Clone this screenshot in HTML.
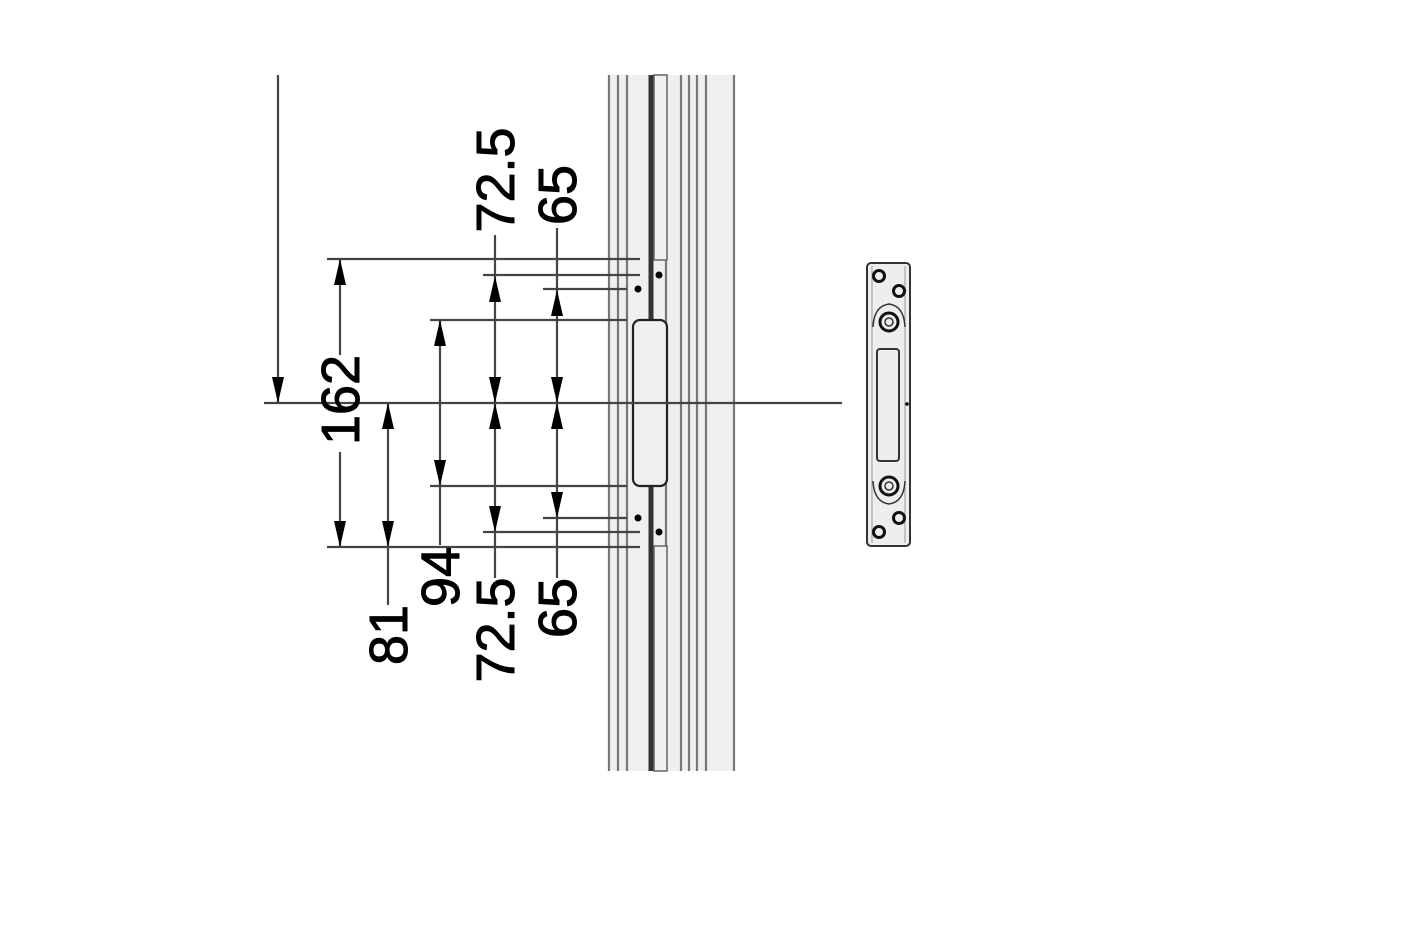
<!DOCTYPE html>
<html><head><meta charset="utf-8"><style>html,body{margin:0;padding:0;background:#fff;}svg{display:block}</style></head>
<body>
<svg width="1422" height="946" viewBox="0 0 1422 946" xmlns="http://www.w3.org/2000/svg">
<defs>
<marker id="a" viewBox="-26 -6 26 12" refX="0" refY="0" markerWidth="26" markerHeight="12" markerUnits="userSpaceOnUse" orient="auto"><path d="M-26,-6 L0,0 L-26,6 Z" fill="#000"/></marker>
</defs>
<rect x="608" y="75" width="127" height="696" fill="#efefef"/>
<g stroke="#777" stroke-width="2.2">
<line x1="609" y1="75" x2="609" y2="771"/>
<line x1="618" y1="75" x2="618" y2="771"/>
<line x1="627" y1="75" x2="627" y2="771"/>
<line x1="666" y1="75" x2="666" y2="771"/>
<line x1="681" y1="75" x2="681" y2="771"/>
<line x1="689" y1="75" x2="689" y2="771"/>
<line x1="697" y1="75" x2="697" y2="771"/>
<line x1="706" y1="75" x2="706" y2="771"/>
<line x1="734" y1="75" x2="734" y2="771"/>
</g>
<line x1="651" y1="75" x2="651" y2="320" stroke="#333" stroke-width="5"/>
<line x1="651" y1="486" x2="651" y2="771" stroke="#333" stroke-width="5"/>
<rect x="654" y="75" width="13" height="185" fill="#efefef" stroke="#666" stroke-width="1.5"/>
<rect x="654" y="546" width="13" height="225" fill="#efefef" stroke="#666" stroke-width="1.5"/>
<rect x="633" y="320" width="34" height="166" rx="7" fill="#efefef" stroke="#222" stroke-width="2.2"/>
<circle cx="659" cy="275" r="3.5" fill="#000"/><circle cx="638" cy="289" r="3.5" fill="#000"/>
<circle cx="638" cy="518" r="3.5" fill="#000"/><circle cx="659" cy="532" r="3.5" fill="#000"/>
<g stroke="#444" stroke-width="2.2" fill="none">
<line x1="264" y1="403" x2="842" y2="403"/>
<line x1="327" y1="259" x2="640" y2="259"/>
<line x1="327" y1="547" x2="640" y2="547"/>
<line x1="430" y1="320" x2="627" y2="320"/>
<line x1="430" y1="486" x2="627" y2="486"/>
<line x1="483" y1="275" x2="640" y2="275"/>
<line x1="483" y1="532" x2="640" y2="532"/>
<line x1="543" y1="289" x2="627" y2="289"/>
<line x1="543" y1="518" x2="627" y2="518"/>
<line x1="278" y1="75" x2="278" y2="403" marker-end="url(#a)"/>
<line x1="340" y1="355" x2="340" y2="259" marker-end="url(#a)"/>
<line x1="340" y1="452" x2="340" y2="547" marker-end="url(#a)"/>
<line x1="388" y1="475" x2="388" y2="403" marker-end="url(#a)"/>
<line x1="388" y1="475" x2="388" y2="547" marker-end="url(#a)"/>
<line x1="388" y1="547" x2="388" y2="605"/>
<line x1="440" y1="400" x2="440" y2="320" marker-end="url(#a)"/>
<line x1="440" y1="400" x2="440" y2="486" marker-end="url(#a)"/>
<line x1="440" y1="486" x2="440" y2="545"/>
<line x1="495" y1="235" x2="495" y2="275"/>
<line x1="495" y1="340" x2="495" y2="276" marker-end="url(#a)"/>
<line x1="495" y1="340" x2="495" y2="403" marker-end="url(#a)"/>
<line x1="495" y1="470" x2="495" y2="403" marker-end="url(#a)"/>
<line x1="495" y1="470" x2="495" y2="532" marker-end="url(#a)"/>
<line x1="495" y1="532" x2="495" y2="578"/>
<line x1="557" y1="228" x2="557" y2="289"/>
<line x1="557" y1="345" x2="557" y2="290" marker-end="url(#a)"/>
<line x1="557" y1="345" x2="557" y2="403" marker-end="url(#a)"/>
<line x1="557" y1="460" x2="557" y2="403" marker-end="url(#a)"/>
<line x1="557" y1="460" x2="557" y2="518" marker-end="url(#a)"/>
<line x1="557" y1="518" x2="557" y2="578"/>
</g>
<g font-family="Liberation Sans, sans-serif" font-size="54" fill="#000" stroke="#000" stroke-width="1" text-anchor="middle">
<text transform="translate(359,400) rotate(-90)">162</text>
<text transform="translate(407,635) rotate(-90)">81</text>
<text transform="translate(459,577) rotate(-90)">94</text>
<text transform="translate(514,180) rotate(-90)">72.5</text>
<text transform="translate(514,630) rotate(-90)">72.5</text>
<text transform="translate(576,195) rotate(-90)">65</text>
<text transform="translate(576,608) rotate(-90)">65</text>
</g>
<rect x="867" y="263" width="43" height="283" rx="4" fill="#eee" stroke="#333" stroke-width="2"/>
<line x1="872" y1="266" x2="872" y2="543" stroke="#999" stroke-width="1"/>
<line x1="905" y1="266" x2="905" y2="543" stroke="#999" stroke-width="1"/>
<g fill="none" stroke="#111" stroke-width="3">
<circle cx="879" cy="276" r="5.5"/><circle cx="899" cy="291" r="5.5"/>
<circle cx="879" cy="532" r="5.5"/><circle cx="899" cy="518" r="5.5"/>
<circle cx="889" cy="322" r="9"/><circle cx="889" cy="486" r="9"/>
</g>
<g fill="none" stroke="#333" stroke-width="1.5">
<path d="M873,327 Q874,306 889,304 Q904,306 905,327"/><path d="M873,481 Q874,502 889,504 Q904,502 905,481"/>
<circle cx="889" cy="322" r="4"/><circle cx="889" cy="486" r="4"/>
<rect x="877" y="349" width="22" height="112" rx="3" stroke-width="2"/>
</g>
<circle cx="907" cy="404" r="1.8" fill="#000"/>
</svg>
</body></html>
